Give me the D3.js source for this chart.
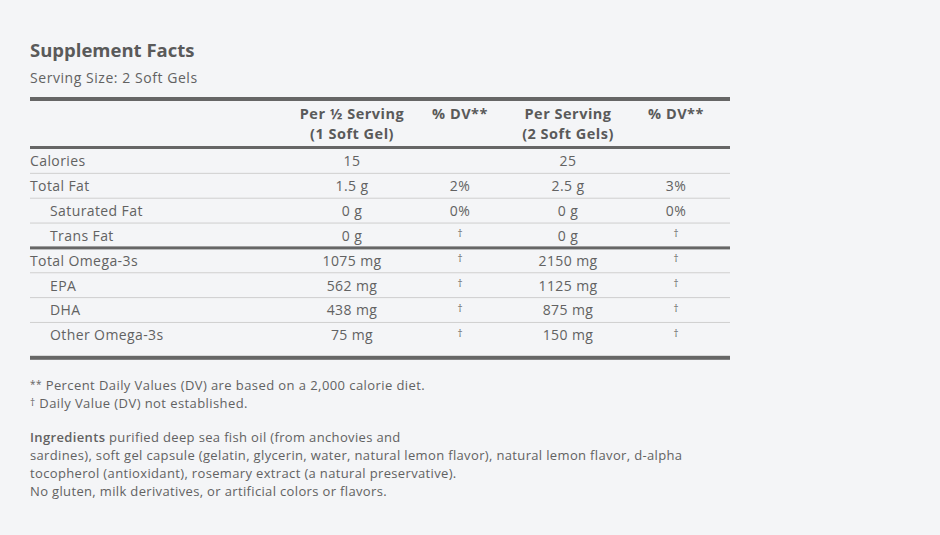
<!DOCTYPE html>
<html><head><meta charset="utf-8">
<script src="https://cdn.jsdelivr.net/npm/d3@7/dist/d3.min.js"></script>
<style>
html,body{margin:0;padding:0;background:#f4f5f7;}
svg{display:block;font-family:"Open Sans","Noto Sans",sans-serif;}
</style></head>
<body>
<script>
const title = "Supplement Facts";
const servingSize = "Serving Size: 2 Soft Gels";
const columns = ["half", "halfDV", "full", "fullDV"];
const headerLine1 = ["Per ½ Serving", "% DV**", "Per Serving", "% DV**"];
const headerLine2 = ["(1 Soft Gel)", "", "(2 Soft Gels)", ""];
const nutrients = ["Calories", "Total Fat", "Saturated Fat", "Trans Fat", "Total Omega-3s", "EPA", "DHA", "Other Omega-3s"];
const indented = [false, false, true, true, false, true, true, true];
const perHalf = ["15", "1.5 g", "0 g", "0 g", "1075 mg", "562 mg", "438 mg", "75 mg"];
const dvHalf = ["", "2%", "0%", "†", "†", "†", "†", "†"];
const perServing = ["25", "2.5 g", "0 g", "0 g", "2150 mg", "1125 mg", "875 mg", "150 mg"];
const dvServing = ["", "3%", "0%", "†", "†", "†", "†", "†"];
const thickAfter = ["Trans Fat"];
const footnotes = ["** Percent Daily Values (DV) are based on a 2,000 calorie diet.", "† Daily Value (DV) not established."];
const ingredientsLines = [
  ["Ingredients", " purified deep sea fish oil (from anchovies and"],
  ["", "sardines), soft gel capsule (gelatin, glycerin, water, natural lemon flavor), natural lemon flavor, d-alpha"],
  ["", "tocopherol (antioxidant), rosemary extract (a natural preservative)."],
  ["", "No gluten, milk derivatives, or artificial colors or flavors."]
];

const W = 940, H = 535;
const left = 30, right = 730;
const textColor = "#626262";
const svg = d3.select("body").append("svg").attr("width", W).attr("height", H);

svg.append("text").attr("x", left).attr("y", 57).attr("font-size", 18.5).attr("font-weight", 700)
  .attr("fill", "#5a5a5a").text(title);
svg.append("text").attr("x", left).attr("y", 83).attr("font-size", 14).attr("letter-spacing", 0.55)
  .attr("fill", textColor).text(servingSize);

const x = d3.scalePoint().domain(columns).range([352, 676]);
const y = d3.scaleBand().domain(nutrients).range([148.5, 148.5 + 24.85 * nutrients.length]);

// top thick rule
svg.append("rect").attr("x", left).attr("y", 97).attr("width", right - left).attr("height", 4).attr("fill", "#666");
// header
const hdr = svg.append("g").attr("font-size", 14.5).attr("font-weight", 700).attr("letter-spacing", 0.5)
  .attr("fill", "#5a5a5a").attr("text-anchor", "middle");
columns.forEach((c, i) => {
  hdr.append("text").attr("x", x(c)).attr("y", 119).text(headerLine1[i]);
  if (headerLine2[i]) hdr.append("text").attr("x", x(c)).attr("y", 139).text(headerLine2[i]);
});
svg.append("rect").attr("x", left).attr("y", 146).attr("width", right - left).attr("height", 3).attr("fill", "#666");

// row separators
nutrients.slice(0, -1).forEach((n) => {
  const yy = y(n) + y.bandwidth();
  if (thickAfter.includes(n)) {
    svg.append("rect").attr("x", left).attr("y", yy - 1.5).attr("width", right - left).attr("height", 3).attr("fill", "#666");
  } else {
    svg.append("rect").attr("x", left).attr("y", yy - 0.5).attr("width", right - left).attr("height", 1).attr("fill", "#cfcfcf");
  }
});
// bottom thick rule
const lastEnd = y(nutrients[nutrients.length - 1]) + y.bandwidth();
svg.append("rect").attr("x", left).attr("y", lastEnd + 8.5).attr("width", right - left).attr("height", 4).attr("fill", "#666");

// rows
const rowData = nutrients.map((n, i) => ({ n, ind: indented[i], vals: [perHalf[i], dvHalf[i], perServing[i], dvServing[i]] }));
const rows = svg.append("g").selectAll("g").data(rowData).join("g")
  .attr("transform", d => `translate(0,${y(d.n) + y.bandwidth() / 2 + 0.5})`);
rows.append("text").attr("x", d => d.ind ? left + 20 : left).attr("dy", "0.35em")
  .attr("font-size", 14).attr("letter-spacing", 0.4).attr("fill", textColor).text(d => d.n);
rows.each(function (d) {
  const g = d3.select(this);
  d.vals.forEach((v, j) => {
    if (!v) return;
    const dag = v === "†";
    g.append("text").attr("x", x(columns[j])).attr("dy", dag ? "0.15em" : "0.35em")
      .attr("text-anchor", "middle").attr("font-size", dag ? 10 : 14).attr("letter-spacing", dag ? 0 : 0.4)
      .attr("fill", textColor).text(v);
  });
});

// footnotes
const fn = svg.append("g").attr("font-size", 13).attr("letter-spacing", 0.42).attr("fill", textColor);
footnotes.forEach((t, i) => {
  const tx = fn.append("text").attr("x", left).attr("y", 389.5 + i * 18);
  const sym = t.startsWith("**") ? "**" : "†";
  tx.append("tspan").attr("font-size", 10).attr("dy", "-2").text(sym);
  tx.append("tspan").attr("dy", "2").text(t.slice(sym.length));
});
ingredientsLines.forEach((parts, i) => {
  const tx = fn.append("text").attr("x", left).attr("y", 441.5 + i * 18).attr("letter-spacing", 0.35);
  if (parts[0]) tx.append("tspan").attr("font-weight", 600).text(parts[0]);
  tx.append("tspan").text(parts[1]);
});
</script>
</body></html>
